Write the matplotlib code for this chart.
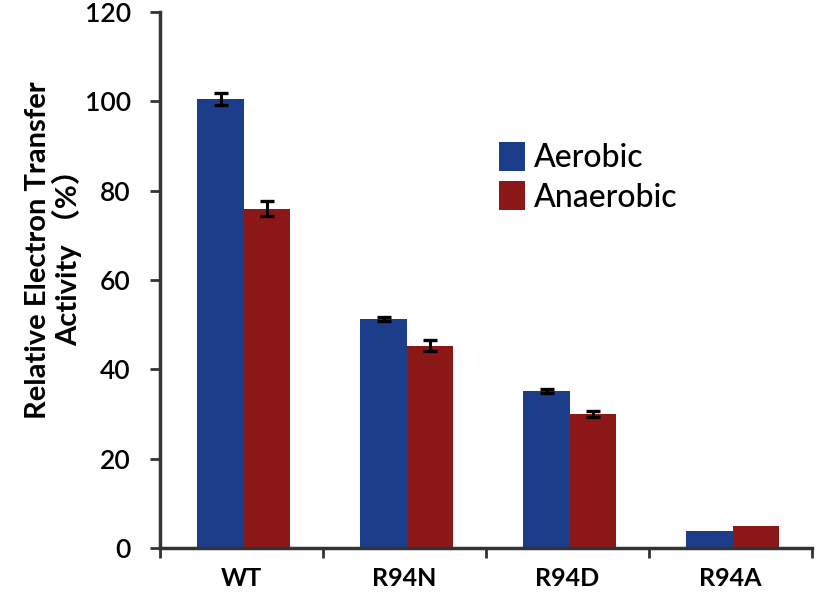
import numpy as np
import matplotlib
matplotlib.use("Agg")
from matplotlib import pyplot as plt

plt.rcParams['font.family'] = ['Lato', 'Noto Sans CJK SC', 'DejaVu Sans']

categories = ["WT", "R94N", "R94D", "R94A"]
series_names = ["Aerobic", "Anaerobic"]
aerobic = [100.5, 51.3, 35.2, 3.8]
aerobic_err = [1.4, 0.4, 0.4, 0.0]
anaerobic = [76.0, 45.3, 30.0, 5.0]
anaerobic_err = [1.6, 1.2, 0.7, 0.0]
yticks = [0, 20, 40, 60, 80, 100, 120]

BLUE = "#1b3d8a"
RED = "#8c1717"
AXIS = "#333333"

fig = plt.figure(figsize=(8.16, 6.03), dpi=100)
ax = fig.add_axes([160 / 816, 1 - 548 / 603, 652 / 816, 536 / 603])

x = np.arange(len(categories))
w = 0.285
err_kw = dict(ecolor="black", elinewidth=2.2, capsize=5, capthick=2.4)
ax.bar(x - w / 2 + 0.015, aerobic, w, color=BLUE, label=series_names[0],
       yerr=[e if e > 0 else np.nan for e in aerobic_err], error_kw=err_kw, zorder=2)
ax.bar(x + w / 2 + 0.015, anaerobic, w, color=RED, label=series_names[1],
       yerr=[e if e > 0 else np.nan for e in anaerobic_err], error_kw=err_kw, zorder=2)

ax.set_xlim(-0.5, len(categories) - 0.5)
ax.set_ylim(0, 120)
ax.set_yticks(yticks)
ax.set_yticklabels([str(v) for v in yticks], fontsize=19, fontweight="semibold")
ax.set_xticks(x)
ax.set_xticklabels(categories, fontsize=18, fontweight="bold")
ax.tick_params(axis="x", length=0, pad=14)
ax.set_xticks(np.arange(-0.5, len(categories)), minor=True)
ax.tick_params(axis="x", which="minor", length=7, width=2, color=AXIS, direction="out")
ax.tick_params(axis="y", length=7, width=2, color=AXIS, direction="out", pad=14)

for s in ["top", "right"]:
    ax.spines[s].set_visible(False)
for s in ["left", "bottom"]:
    ax.spines[s].set_color(AXIS)
    ax.spines[s].set_linewidth(2.5)

ax.legend(loc="upper left", bbox_to_anchor=(0.52, 0.757), frameon=False,
          prop={"size": 23, "weight": "medium"}, handlelength=0.8, handleheight=1.0,
          handletextpad=0.3, labelspacing=0.25, borderpad=0, borderaxespad=0)

fig.text(0.066, 0.585, "Relative Electron Transfer\nActivity （%）",
         rotation=90, ha="center", va="center", fontsize=21, fontweight="bold",
         linespacing=1.05, multialignment="center")

fig.savefig("out.png", dpi=100)
